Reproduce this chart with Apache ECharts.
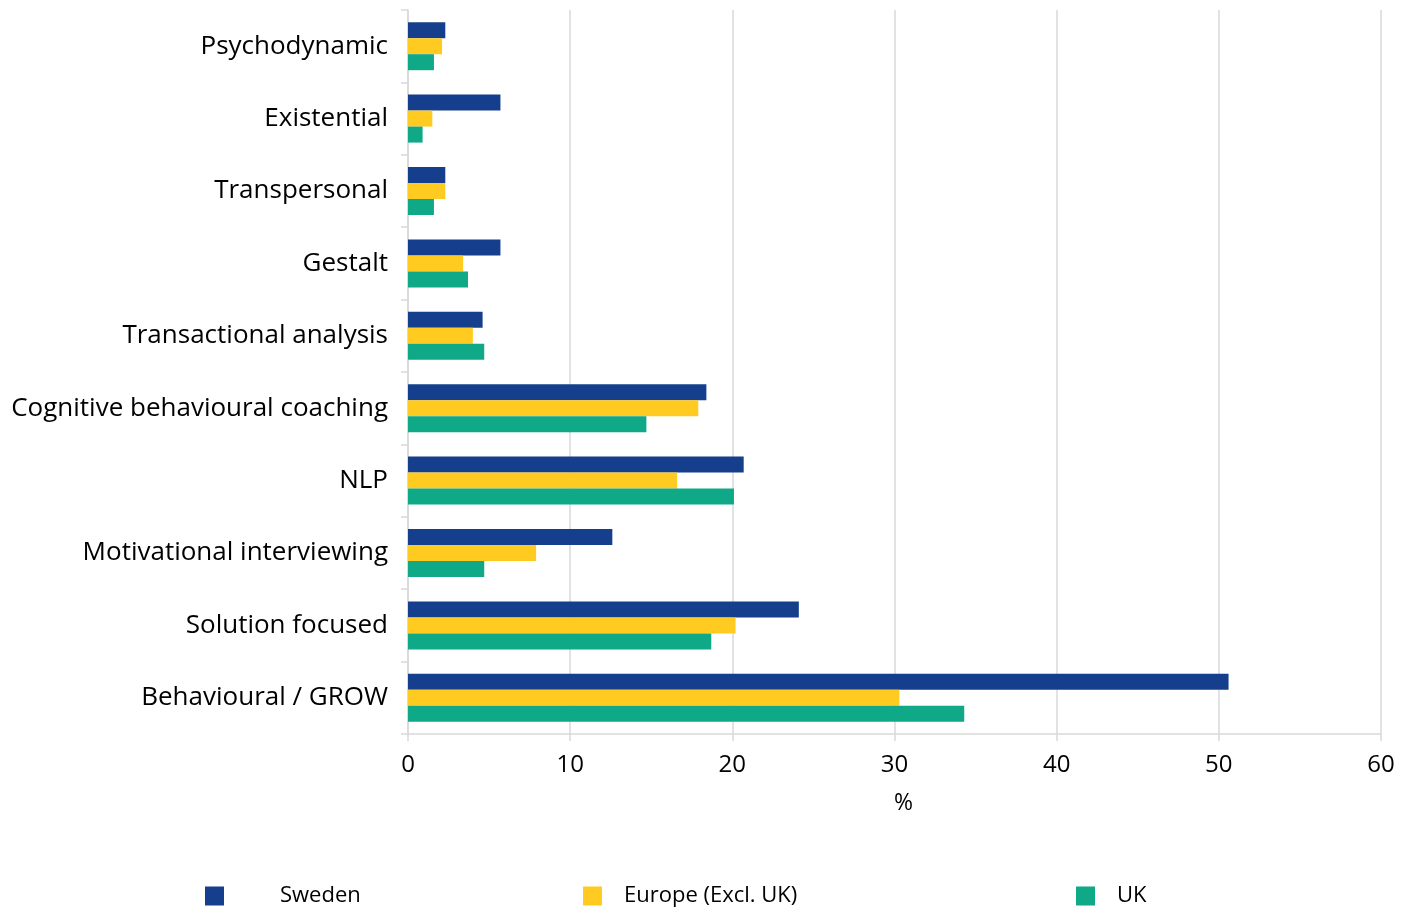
<!DOCTYPE html>
<html>
<head>
<meta charset="utf-8">
<script src="https://cdn.jsdelivr.net/npm/echarts@6/dist/echarts.min.js"></script>
<style>html,body{margin:0;padding:0;background:#fff}#c{width:1418px;height:907px}</style>
</head>
<body>
<div id="c"></div>
<script>
const categories = ["Psychodynamic","Existential","Transpersonal","Gestalt","Transactional analysis","Cognitive behavioural coaching","NLP","Motivational interviewing","Solution focused","Behavioural / GROW"];
const sweden = [2.3, 5.7, 2.3, 5.7, 4.6, 18.4, 20.7, 12.6, 24.1, 50.6];
const europe = [2.1, 1.5, 2.3, 3.4, 4.0, 17.9, 16.6, 7.9, 20.2, 30.3];
const uk = [1.6, 0.9, 1.6, 3.7, 4.7, 14.7, 20.1, 4.7, 18.7, 34.3];
const xTicks = {min: 0, max: 60, interval: 10};
const seriesNames = ["Sweden", "Europe (Excl. UK)", "UK"];

const FONT = "Open Sans";
const colors = ["#153f8c", "#ffcb20", "#0fa988"];
const chart = echarts.init(document.getElementById('c'));
function mkLegend(name, left, pad) {
  return {
    data: [name], left: left, top: 885, padding: 0,
    itemWidth: 19, itemHeight: 19, icon: 'rect',
    textStyle: {fontFamily: FONT, fontSize: 22, color: '#000', padding: [0, 0, 0, pad]}
  };
}
chart.setOption({
  animation: false,
  color: colors,
  textStyle: {fontFamily: FONT},
  grid: {left: 408, right: 37, top: 10, bottom: 173, containLabel: false},
  legend: [mkLegend(seriesNames[0], 205, 51), mkLegend(seriesNames[1], 583, 17), mkLegend(seriesNames[2], 1076, 17)],
  xAxis: {
    type: 'value', min: xTicks.min, max: xTicks.max, interval: xTicks.interval,
    name: '%', nameLocation: 'middle', nameGap: 58,
    nameTextStyle: {fontFamily: FONT, fontSize: 23, color: '#000', padding: [0, 0, 0, 18]},
    axisLine: {show: true, lineStyle: {color: '#d9d9d9', width: 1.5}},
    axisTick: {show: true, length: 7, lineStyle: {color: '#d9d9d9', width: 1.5}},
    axisLabel: {fontFamily: FONT, fontSize: 24, color: '#000', margin: 19},
    splitLine: {show: true, lineStyle: {color: '#d9d9d9', width: 1.5}}
  },
  yAxis: {
    type: 'category', data: categories, inverse: true,
    axisLine: {show: true, lineStyle: {color: '#d9d9d9', width: 1.5}},
    axisTick: {show: true, length: 7, lineStyle: {color: '#d9d9d9', width: 1.5}},
    axisLabel: {fontFamily: FONT, fontSize: 26, color: '#000', margin: 20, padding: [8, 0, 0, 0]}
  },
  series: [
    {name: seriesNames[0], type: 'bar', data: sweden, barWidth: 16, barGap: '0%'},
    {name: seriesNames[1], type: 'bar', data: europe, barWidth: 16, barGap: '0%'},
    {name: seriesNames[2], type: 'bar', data: uk, barWidth: 16, barGap: '0%'}
  ]
});
</script>
</body>
</html>
